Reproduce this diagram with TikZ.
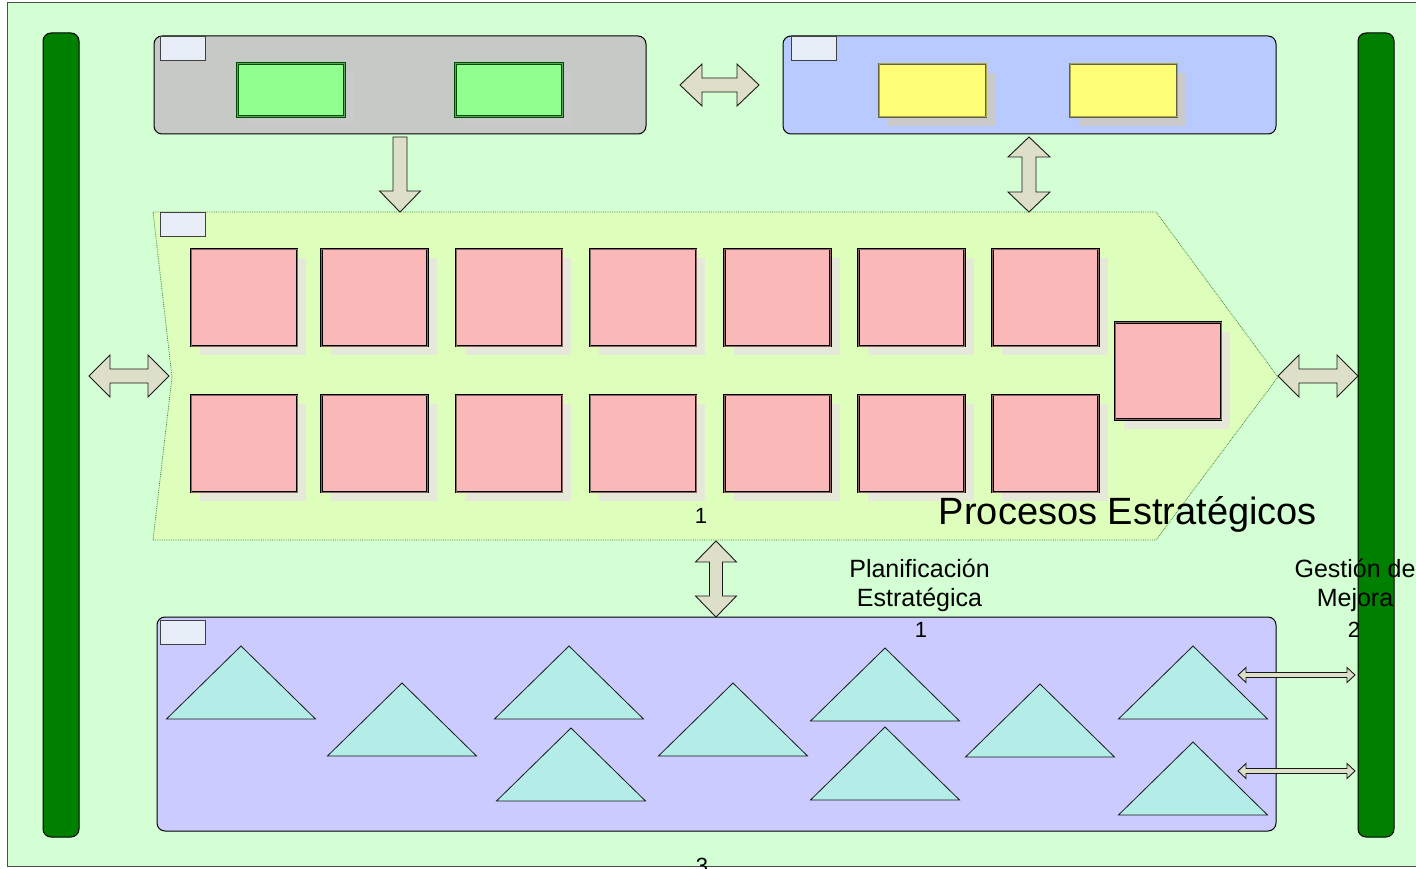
\documentclass[tikz,border=0pt]{standalone}
\usepackage{fontspec}
\setmainfont{Liberation Sans}
\usetikzlibrary{shadows}

\definecolor{pagegreen}{HTML}{D4FFD4}
\definecolor{bargreen}{HTML}{008000}
\definecolor{panelgray}{HTML}{C6C9C6}
\definecolor{panelblue}{HTML}{B8CAFF}
\definecolor{panelviolet}{HTML}{CBCBFF}
\definecolor{chevronfill}{HTML}{DDFFBB}
\definecolor{tabfill}{HTML}{E8EEF8}
\definecolor{keygreen}{HTML}{90FF90}
\definecolor{keyyellow}{HTML}{FFFF77}
\definecolor{padpink}{HTML}{FAB8B8}
\definecolor{padshadow}{HTML}{E6E8DA}
\definecolor{keyshadow}{HTML}{CACACA}
\definecolor{trifill}{HTML}{B4ECE8}
\definecolor{arrowfill}{HTML}{DDDFC8}

% x1 x2 y head halfhead halfshaft
\newcommand{\hdarrow}[6]{%
  \draw[blockarrow] (#1,#3) -- (#1+#4,#3-#5) -- (#1+#4,#3-#6) -- (#2-#4,#3-#6)
    -- (#2-#4,#3-#5) -- (#2,#3) -- (#2-#4,#3+#5) -- (#2-#4,#3+#6)
    -- (#1+#4,#3+#6) -- (#1+#4,#3+#5) -- cycle;}
% x y1 y2 head halfhead halfshaft
\newcommand{\vdarrow}[6]{%
  \draw[blockarrow] (#1,#2) -- (#1+#5,#2+#4) -- (#1+#6,#2+#4) -- (#1+#6,#3-#4)
    -- (#1+#5,#3-#4) -- (#1,#3) -- (#1-#5,#3-#4) -- (#1-#6,#3-#4)
    -- (#1-#6,#2+#4) -- (#1-#5,#2+#4) -- cycle;}

\begin{document}
\begin{tikzpicture}[
        x=1pt, y=-1pt,
        panel/.style={
            rectangle,
            rounded corners=8pt,
            draw=black,
            line width=1pt,
            inner sep=0pt
        },
        sidebar/.style={
            panel,
            fill=bargreen,
            minimum width=36pt,
            minimum height=804pt
        },
        tab/.style={
            rectangle,
            draw=black!75,
            fill=tabfill,
            line width=0.8pt,
            minimum width=45pt,
            minimum height=24pt,
            inner sep=0pt
        },
        keybox/.style={
            rectangle,
            line width=0.7pt,
            double distance=1pt,
            minimum width=107pt,
            minimum height=53pt,
            inner sep=0pt,
            general shadow={fill=keyshadow, shadow xshift=9pt, shadow yshift=-9pt}
        },
        padbox/.style={
            rectangle,
            draw=black,
            double=padpink!55!black,
            line width=0.7pt,
            double distance=1pt,
            fill=padpink,
            minimum width=106pt,
            minimum height=97pt,
            inner sep=0pt,
            general shadow={fill=padshadow, shadow xshift=9pt, shadow yshift=-9pt}
        },
        tri/.style={
            draw=black!90,
            fill=trifill,
            line width=0.8pt,
            line join=miter
        },
        blockarrow/.style={
            draw=black!90,
            fill=arrowfill,
            line width=0.9pt
        },
        chevron/.style={
            draw=black!45!green!50!gray,
            densely dotted,
            fill=chevronfill,
            line width=0.8pt
        },
        label/.style={
            anchor=base,
            inner sep=0pt,
            font=\fontsize{25}{29}\selectfont
        },
        number/.style={
            anchor=base,
            inner sep=0pt,
            font=\fontsize{22}{26}\selectfont
        }
    ]

        \useasboundingbox (0,0) rectangle (1416,869);
        \clip (0,0) rectangle (1416,869);
        \fill[white] (0,0) rectangle (1416,869);
        \draw[fill=pagegreen, draw=black!70, line width=1pt] (7,3) rectangle (1430,866);

        \node[sidebar] (leftbar) at (61,435) {};
        \node[sidebar] (rightbar) at (1376,435) {};

        \node[panel, fill=panelgray, minimum width=492pt, minimum height=98pt] (support) at (400,85) {};
        \node[panel, fill=panelblue, minimum width=493pt, minimum height=98pt] (direction) at (1029.5,85) {};
        \node[panel, fill=panelviolet, minimum width=1119pt, minimum height=214pt] (operation) at (716.5,724) {};

        \draw[chevron] (153,212) -- (1156,212) -- (1278,377) -- (1156,540) -- (153,540) -- (172,377) -- cycle;

        \node[tab] (supporttab) at (182.5,48) {};
        \node[tab] (directiontab) at (813.5,48.5) {};
        \node[tab] (chevrontab) at (182.5,224) {};
        \node[tab] (operationtab) at (182.5,632) {};

        \node[keybox, fill=keygreen, draw=black!70!green, double=keygreen!65!black] (supportA) at (291,90) {};
        \node[keybox, fill=keygreen, draw=black!70!green, double=keygreen!65!black] (supportB) at (509,90) {};
        \node[keybox, fill=keyyellow, draw=black!70!yellow, double=keyyellow!65!black] (directionA) at (932.5,90.5) {};
        \node[keybox, fill=keyyellow, draw=black!70!yellow, double=keyyellow!65!black] (directionB) at (1123.5,90.5) {};

        \foreach \x [count=\i] in {244,374.5,509,643,777.5,911.5,1045.5} {
            \node[padbox] (upper\i) at (\x,297.5) {};
            \node[padbox] (lower\i) at (\x,443.5) {};
        }
        \node[padbox] (last) at (1168,371) {};

        \foreach \ax/\ay in {241/646,402/683,569/646,571/728,733/683,885/648,885/727,1040/684,1193/646,1193/742} {
            \draw[tri] (\ax,\ay) -- ++(74.5,73) -- ++(-149,0) -- cycle;
        }

        \hdarrow{680}{759}{85}{22}{21}{7}
        \hdarrow{89}{169}{376}{21}{21}{7}
        \hdarrow{1278}{1358}{376}{21}{21}{7}
        \hdarrow{1238}{1355}{675}{8}{7.5}{2.5}
        \hdarrow{1238}{1355}{771}{8}{7.5}{2.5}
        \vdarrow{1029}{137}{212}{20}{21}{7}
        \vdarrow{716}{541}{617}{21}{20.5}{6.5}
        \draw[blockarrow] (393,137) -- (407,137) -- (407,191) -- (420.5,191) -- (400,212)
            -- (379.5,191) -- (393,191) -- cycle;

        \node[anchor=base, inner sep=0pt, font=\fontsize{38}{45}\selectfont] (title) at (1128,524) {Procesos Estratégicos};
        \node[number] (chevronnum) at (701,523) {1};
        \node[label] (planA) at (919.5,577) {Planificación};
        \node[label] (planB) at (919.5,606) {Estratégica};
        \node[number] (plannum) at (921,637) {1};
        \node[label] (gestA) at (1355,577) {Gestión de};
        \node[label] (gestB) at (1355,606) {Mejora};
        \node[number] (gestnum) at (1354,637) {2};
        \node[number] (bottomnum) at (702,873) {3};

    \end{tikzpicture}
\end{document}
